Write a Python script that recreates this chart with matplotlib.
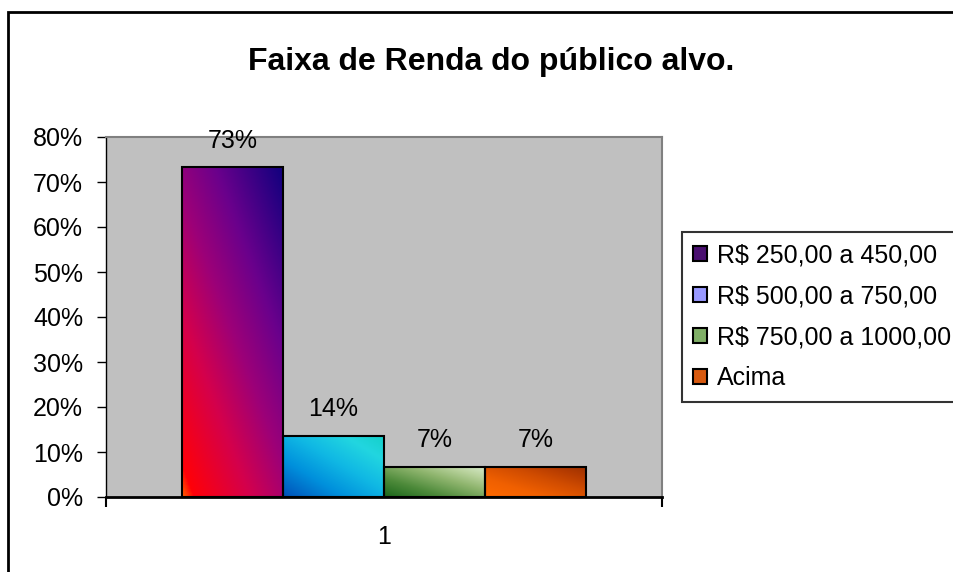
import matplotlib
matplotlib.use("Agg")
import matplotlib.pyplot as plt
import numpy as np
from matplotlib.patches import Rectangle
from matplotlib.colors import LinearSegmentedColormap

plt.rcParams['font.family'] = ['Liberation Sans', 'DejaVu Sans']

# dados
faixas = ['R$ 250,00 a 450,00', 'R$ 500,00 a 750,00', 'R$ 750,00 a 1000,00', 'Acima']
valores = [0.733, 0.136, 0.067, 0.067]
rotulos = ['73%', '14%', '7%', '7%']
categoria = ['1']
yticks = [0, 0.1, 0.2, 0.3, 0.4, 0.5, 0.6, 0.7, 0.8]

# gradientes das barras (canto inferior esquerdo -> superior direito)
gradientes = [
    [(0, '#ff6000'), (0.05, '#ff0008'), (0.3, '#d4004c'), (0.5, '#9c0078'), (0.7, '#6a008c'), (1, '#10007e')],
    [(0, '#0050b8'), (0.3, '#0090dc'), (0.55, '#10b8e4'), (0.8, '#22d6e0'), (1, '#14d0c8')],
    [(0, '#1a661a'), (0.3, '#4d8a3a'), (0.6, '#8fb56e'), (0.8, '#b8d29c'), (1, '#d8ebcc')],
    [(0, '#ff6a00'), (0.3, '#f06000'), (0.6, '#d04c00'), (0.8, '#b63c00'), (1, '#9a3000')],
]
pesos = [(0.45, 0.55), (0.5, 0.5), (0.5, 0.5), (0.5, 0.5)]
cores_legenda = ['#4a1070', '#9999ff', '#7fae66', '#d85a10']

W, H = 954, 572
fig = plt.figure(figsize=(W / 100, H / 100), dpi=100)

# borda da área do gráfico
fig.patches.append(Rectangle((8 / W, -0.1), 1.2, 1 - 12 / H + 0.1, transform=fig.transFigure,
                             fill=False, edgecolor='black', linewidth=2))

ax = fig.add_axes([106 / W, (H - 497) / H, 556 / W, 360 / H])
ax.set_facecolor('#c0c0c0')

largura = 1 / 5.5
n = len(valores)
x0 = -n * largura / 2
for i, (v, g) in enumerate(zip(valores, gradientes)):
    left = x0 + i * largura
    cmap = LinearSegmentedColormap.from_list('g%d' % i, g)
    u = np.linspace(0, 1, 120)[None, :]
    vv = np.linspace(0, 1, 240)[:, None]
    t = pesos[i][0] * u + pesos[i][1] * vv
    rect = Rectangle((left, 0), largura, v, facecolor='none', edgecolor='black', linewidth=1.5, zorder=3)
    ax.add_patch(rect)
    im = ax.imshow(t, cmap=cmap, origin='lower', extent=(left, left + largura, 0, v),
                   aspect='auto', zorder=2, interpolation='bilinear', vmin=0, vmax=1)
    im.set_clip_path(rect)
    ax.annotate(rotulos[i], (left + largura / 2, v), xytext=(0, 19), textcoords='offset points',
                ha='center', va='center', fontsize=18, zorder=5)

ax.set_xlim(-0.5, 0.5)
ax.set_ylim(0, 0.8)
ax.set_yticks(yticks)
ax.set_yticklabels(['%d%%' % round(t * 100) for t in yticks], fontsize=18)
ax.tick_params(axis='y', direction='out', length=6.5, width=1, pad=10)

ax.set_xticks([0])
ax.set_xticklabels(categoria, fontsize=18)
ax.set_xticks([-0.5, 0.5], minor=True)
ax.tick_params(axis='x', which='major', length=0, pad=20)
ax.tick_params(axis='x', which='minor', direction='out', length=7, width=1.5)

for s in ['top', 'right']:
    ax.spines[s].set_color('#808080')
    ax.spines[s].set_linewidth(1.5)
ax.spines['left'].set_linewidth(1)
ax.spines['bottom'].set_linewidth(2)

fig.text(491 / W, 1 - 62 / H, 'Faixa de Renda do público alvo.', ha='center', va='center',
         fontsize=23, fontweight='bold')

handles = [Rectangle((0, 0), 1, 1, facecolor=c, edgecolor='black', linewidth=1.5) for c in cores_legenda]
leg = fig.legend(handles, faixas, loc='upper left', bbox_to_anchor=(682 / W, 1 - 232 / H),
                 bbox_transform=fig.transFigure, fontsize=18, frameon=True, fancybox=False,
                 handlelength=0.55, handleheight=0.55, handletextpad=0.4, labelspacing=0.68,
                 borderpad=0.45, borderaxespad=0)
leg.get_frame().set_edgecolor('black')
leg.get_frame().set_linewidth(1.5)

fig.savefig('out.png', dpi=100)
